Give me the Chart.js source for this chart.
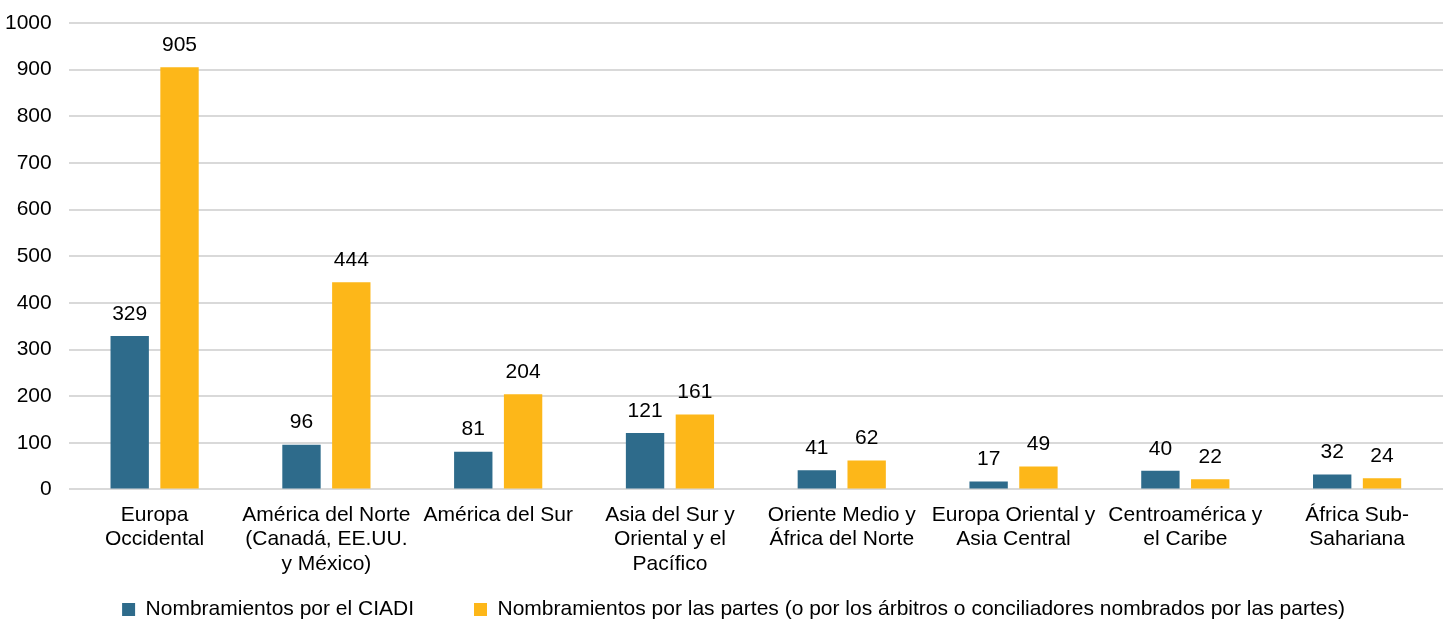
<!DOCTYPE html>
<html>
<head>
  <meta charset="UTF-8">
  <title>Nombramientos por región</title>
  <script src="https://cdn.jsdelivr.net/npm/chart.js"></script>
  <style>
    html, body { margin: 0; padding: 0; background: #fff; }
    #wrap { width: 1448px; height: 619px; }
  </style>
</head>
<body>
  <div id="wrap"><canvas id="chart" width="1448" height="619"></canvas></div>
  <script>
    const categories = [
      ['Europa', 'Occidental'],
      ['América del Norte', '(Canadá, EE.UU.', 'y México)'],
      ['América del Sur'],
      ['Asia del Sur y', 'Oriental y el', 'Pacífico'],
      ['Oriente Medio y', 'África del Norte'],
      ['Europa Oriental y', 'Asia Central'],
      ['Centroamérica y', 'el Caribe'],
      ['África Sub-', 'Sahariana']
    ];
    const ciadi = [329, 96, 81, 121, 41, 17, 40, 32];
    const partes = [905, 444, 204, 161, 62, 49, 22, 24];
    const seriesNames = [
      'Nombramientos por el CIADI',
      'Nombramientos por las partes (o por los árbitros o conciliadores nombrados por las partes)'
    ];

    const font = { family: 'Arial, "Liberation Sans", sans-serif', size: 21, lineHeight: 1.167 };

    // etiquetas de valor encima de cada barra
    const valueLabels = {
      id: 'valueLabels',
      afterDatasetsDraw(chart) {
        const c = chart.ctx;
        c.save();
        c.font = `${font.size}px ${font.family}`;
        c.fillStyle = '#000';
        c.textAlign = 'center';
        c.textBaseline = 'middle';
        chart.data.datasets.forEach((ds, i) => {
          chart.getDatasetMeta(i).data.forEach((bar, j) => {
            c.fillText(ds.data[j], bar.x, bar.y - 22);
          });
        });
        c.restore();
      }
    };

    // la leyenda va algo desplazada a la derecha
    const legendShift = {
      id: 'legendShift',
      afterLayout(chart) {
        chart.legend.left += 18;
        chart.legend.right += 18;
      }
    };

    new Chart(document.getElementById('chart'), {
      type: 'bar',
      data: {
        labels: categories,
        datasets: [
          { label: seriesNames[0], data: ciadi, backgroundColor: '#2E6B8B' },
          { label: seriesNames[1], data: partes, backgroundColor: '#FDB719' }
        ]
      },
      options: {
        responsive: false,
        animation: false,
        datasets: { bar: { categoryPercentage: 0.58, barPercentage: 0.77 } },
        layout: { padding: { top: 0, right: 5, left: -12, bottom: -11 } },
        plugins: {
          legend: {
            position: 'bottom',
            labels: {
              font, color: '#000', boxWidth: 13, boxHeight: 13, padding: 18,
              generateLabels(chart) {
                const items = Chart.defaults.plugins.legend.labels.generateLabels(chart);
                items[0].text += '\u2003\u2003';
                return items;
              }
            }
          },
          tooltip: { enabled: false }
        },
        scales: {
          x: {
            grid: { display: false },
            border: { display: false },
            ticks: { font, color: '#000', maxRotation: 0, autoSkip: false, padding: 5 }
          },
          y: {
            min: 0, max: 1000,
            ticks: { stepSize: 100, font, color: '#000', padding: 17, callback: v => String(v) },
            grid: { color: '#d9d9d9', lineWidth: 2, drawTicks: false },
            border: { display: false },
            afterFit(scale) { scale.paddingTop = 23; }
          }
        }
      },
      plugins: [valueLabels, legendShift]
    });
  </script>
</body>
</html>
